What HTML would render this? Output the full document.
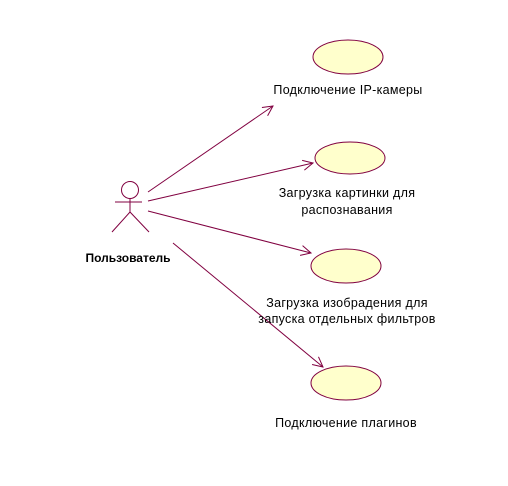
<!DOCTYPE html>
<html><head><meta charset="utf-8"><style>
html,body{margin:0;padding:0;background:#fff;width:508px;height:486px;overflow:hidden}
text{font-family:"Liberation Sans",Arial,sans-serif;font-size:12.5px;fill:#000;letter-spacing:0.3px}
</style></head><body>
<svg width="508" height="486" viewBox="0 0 508 486" xmlns="http://www.w3.org/2000/svg">
<defs><marker id="a" markerWidth="12" markerHeight="12" refX="11" refY="6" orient="auto" markerUnits="userSpaceOnUse"><path d="M1,1 L11,6 L1,11" fill="none" stroke="#800040" stroke-width="1"/></marker></defs>
<g fill="#ffffcc" stroke="#800040" stroke-width="1">
<ellipse cx="348" cy="57" rx="35" ry="17"/>
<ellipse cx="350" cy="158" rx="35" ry="16"/>
<ellipse cx="346" cy="266" rx="35" ry="17"/>
<ellipse cx="346" cy="383" rx="35" ry="17"/>
</g>
<g stroke="#800040" stroke-width="1" fill="none">
<circle cx="130" cy="190" r="8.5"/>
<line x1="115" y1="202" x2="142" y2="202"/>
<line x1="130" y1="198.5" x2="130" y2="212"/>
<line x1="130" y1="212" x2="112" y2="232"/>
<line x1="130" y1="212" x2="149" y2="232"/>
<line x1="148" y1="192" x2="273" y2="106" marker-end="url(#a)"/>
<line x1="148" y1="201" x2="313" y2="163" marker-end="url(#a)"/>
<line x1="148" y1="211" x2="311" y2="253" marker-end="url(#a)"/>
<line x1="173" y1="243" x2="323" y2="367" marker-end="url(#a)"/>
</g>
<text x="128" y="262" text-anchor="middle" style="font-weight:bold;font-size:12px;letter-spacing:0">Пользователь</text>
<text x="348" y="94" text-anchor="middle">Подключение IP-камеры</text>
<text x="347" y="197" text-anchor="middle">Загрузка картинки для</text>
<text x="347" y="214" text-anchor="middle">распознавания</text>
<text x="347" y="307" text-anchor="middle">Загрузка изобрадения для</text>
<text x="347" y="323" text-anchor="middle">запуска отдельных фильтров</text>
<text x="346" y="427" text-anchor="middle">Подключение плагинов</text>
</svg>
</body></html>
